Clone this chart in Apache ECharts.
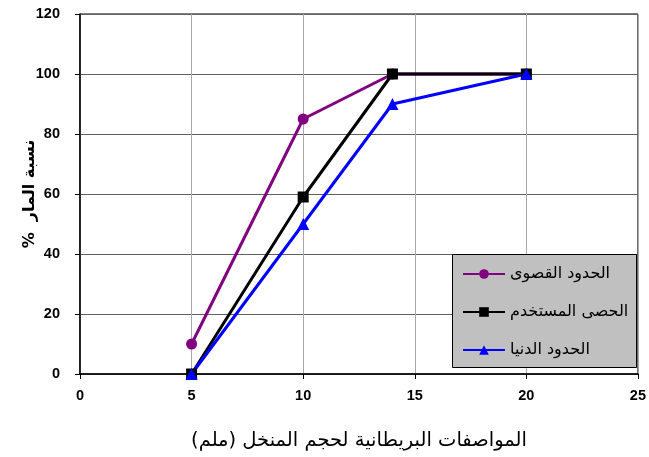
<!DOCTYPE html>
<html>
<head>
<meta charset="utf-8">
<script src="https://cdn.jsdelivr.net/npm/echarts@6/dist/echarts.min.js"></script>
<style>
  html, body { margin: 0; padding: 0; background: #fff; }
  #chart { width: 649px; height: 457px; }
</style>
</head>
<body>
<div id="chart"></div>
<script>
// Sieve sizes (mm) and percentage passing for each grading curve
const sieveSizes = [5, 10, 14, 20];
const upperLimit = [10, 85, 100, 100];
const usedGravel = [0, 59, 100, 100];
const lowerLimit = [0, 50, 90, 100];

const seriesNames = ['الحدود القصوى', 'الحصى المستخدم', 'الحدود الدنيا'];
const xTicks = { min: 0, max: 25, interval: 5 };
const yTicks = { min: 0, max: 120, interval: 20 };

const pairs = (ys) => sieveSizes.map((x, i) => [x, ys[i]]);

const chart = echarts.init(document.getElementById('chart'), null, { renderer: 'canvas' });

const labelFont = { fontFamily: 'Liberation Sans, Arial, sans-serif', fontWeight: 'bold', fontSize: 14.5, color: '#000' };
const arabicFont = 'DejaVu Sans, Noto Sans, sans-serif';

chart.setOption({
  animation: false,
  backgroundColor: '#fff',
  grid: { left: 80, right: 9, top: 14, bottom: 83, show: true, borderColor: '#000', borderWidth: 1 },
  xAxis: {
    type: 'value',
    min: xTicks.min, max: xTicks.max, interval: xTicks.interval,
    name: 'المواصفات البريطانية لحجم المنخل (ملم)',
    nameLocation: 'middle',
    nameGap: 57,
    nameTextStyle: { fontFamily: arabicFont, fontSize: 19.5, color: '#000' },
    axisLine: { onZero: false, lineStyle: { color: '#000', width: 1.5 } },
    axisTick: { show: true, length: 5, lineStyle: { color: '#000' } },
    axisLabel: Object.assign({ margin: 14 }, labelFont),
    splitLine: { show: true, lineStyle: { color: '#a8a8a8', width: 1 } }
  },
  yAxis: {
    type: 'value',
    min: yTicks.min, max: yTicks.max, interval: yTicks.interval,
    name: '%  نسبة المار',
    nameLocation: 'middle',
    nameGap: 42,
    nameMoveOverlap: false,
    nameRotate: 90,
    nameTextStyle: { fontFamily: arabicFont, fontSize: 16, fontWeight: 'bold', color: '#000' },
    axisLine: { show: true, lineStyle: { color: '#000', width: 1.5 } },
    axisTick: { show: true, length: 5, lineStyle: { color: '#000' } },
    axisLabel: Object.assign({ margin: 20 }, labelFont),
    splitLine: { show: true, lineStyle: { color: '#606060', width: 1 } }
  },
  graphic: [{
    type: 'rect',
    shape: { x: 452.5, y: 254.5, width: 184, height: 113 },
    style: { fill: '#c0c0c0', stroke: '#000', lineWidth: 1 },
    z: 50
  }],
  legend: {
    orient: 'vertical',
    left: 457,
    top: 261,
    itemWidth: 42,
    itemHeight: 12,
    itemGap: 22,
    z: 60,
    textStyle: { fontFamily: arabicFont, fontSize: 16, color: '#000' },
    data: seriesNames
  },
  series: [
    {
      name: seriesNames[0], type: 'line', data: pairs(upperLimit),
      symbol: 'circle', symbolSize: 11,
      lineStyle: { color: '#800080', width: 3 },
      itemStyle: { color: '#800080' }
    },
    {
      name: seriesNames[1], type: 'line', data: pairs(usedGravel),
      symbol: 'rect', symbolSize: 11,
      lineStyle: { color: '#000', width: 3 },
      itemStyle: { color: '#000' }
    },
    {
      name: seriesNames[2], type: 'line', data: pairs(lowerLimit),
      symbol: 'triangle', symbolSize: 12,
      lineStyle: { color: '#0000ff', width: 3 },
      itemStyle: { color: '#0000ff' }
    }
  ]
});
</script>
</body>
</html>
